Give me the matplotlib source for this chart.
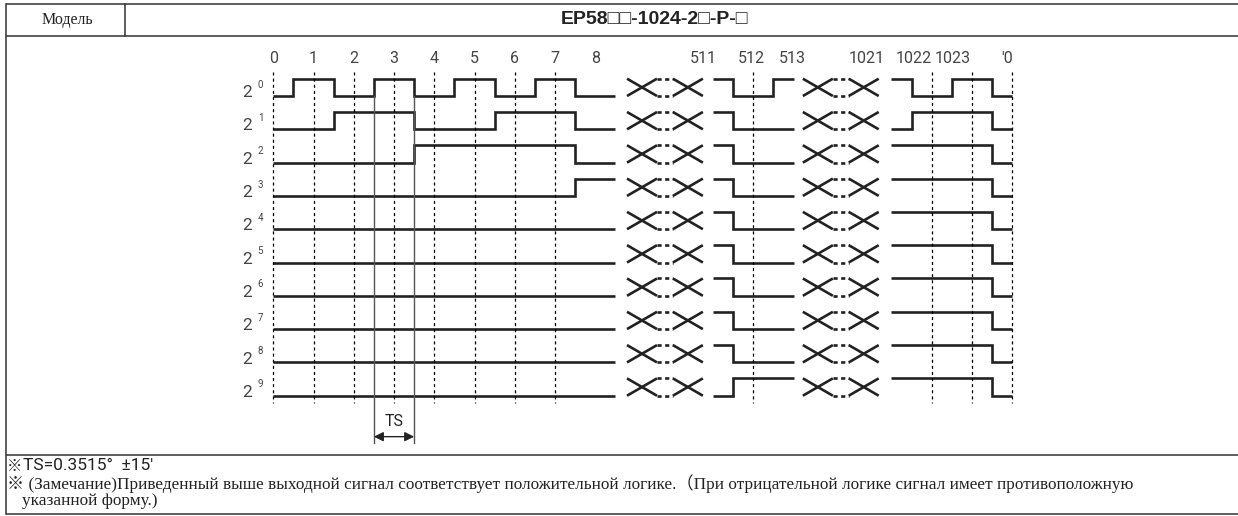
import matplotlib.pyplot as plt
import numpy as np

plt.rcParams['lines.scale_dashes'] = False

# texts
model_label = 'Модель'
model_code = 'EP58□□-1024-2□-P-□'
note_mark = '※'
note_ts = "TS=0.3515°  ±15'"
note_1 = '※ (Замечание)Приведенный выше выходной сигнал соответствует положительной логике.（При отрицательной логике сигнал имеет противоположную'
note_2 = 'указанной форму.)'

# counter labels of the three shown segments
seg_labels = [['0', '1', '2', '3', '4', '5', '6', '7', '8'],
              ['511', '512', '513'],
              ['1021', '1022', '1023', "'0"]]

# output bits, rows 2^0 .. 2^9, one value per count of the segment
bits_low = [[0, 1, 0, 1, 0, 1, 0, 1, 0],
            [0, 0, 1, 1, 0, 0, 1, 1, 0],
            [0, 0, 0, 0, 1, 1, 1, 1, 0],
            [0, 0, 0, 0, 0, 0, 0, 0, 1],
            [0, 0, 0, 0, 0, 0, 0, 0, 0],
            [0, 0, 0, 0, 0, 0, 0, 0, 0],
            [0, 0, 0, 0, 0, 0, 0, 0, 0],
            [0, 0, 0, 0, 0, 0, 0, 0, 0],
            [0, 0, 0, 0, 0, 0, 0, 0, 0],
            [0, 0, 0, 0, 0, 0, 0, 0, 0]]
bits_mid = [[1, 0, 1],
            [1, 0, 0],
            [1, 0, 0],
            [1, 0, 0],
            [1, 0, 0],
            [1, 0, 0],
            [1, 0, 0],
            [1, 0, 0],
            [1, 0, 0],
            [0, 1, 1]]
bits_high = [[1, 0, 1, 0],
             [0, 1, 1, 0],
             [1, 1, 1, 0],
             [1, 1, 1, 0],
             [1, 1, 1, 0],
             [1, 1, 1, 0],
             [1, 1, 1, 0],
             [1, 1, 1, 0],
             [1, 1, 1, 0],
             [1, 1, 1, 0]]
seg_bits = [bits_low, bits_mid, bits_high]
row_powers = ['0', '1', '2', '3', '4', '5', '6', '7', '8', '9']

# layout (slot units: one count step = 1)
seg_start = [0, 10.93, 15.36]
seg_pad_right = [0.5, 0, 0]
seg_guides = [[0, 1, 2, 3, 4, 5, 6, 7], [1], [1, 2, 3]]
label_slots = [[0, 1, 2, 3, 4, 5, 6, 7, 8],
               [10.68, 11.89, 12.91],
               [14.75, 15.92, 16.89, 18.24]]
gap_start = [8.79, 13.16]
amp = 0.52
px_x0, px_step = 273.3, 40.24
px_y0, px_row = 96, 33.3

ink = '#222222'
sans = ['Roboto', 'DejaVu Sans']
serif = ['Liberation Serif', 'Noto Sans CJK JP']

fig = plt.figure(figsize=(12.38, 5.16), dpi=100)
ax = fig.add_axes([0, 0, 1, 1])
ax.set_xlim(0, 1238)
ax.set_ylim(516, 0)
ax.axis('off')

# table frame
lc = '#333333'
for y in [4, 35.5, 455, 514]:
    ax.plot([5.5, 1238], [y, y], color=lc, lw=1.1, solid_capstyle='butt')
ax.plot([5.5, 5.5], [4, 514], color=lc, lw=1.1)
ax.plot([125, 125], [4, 35.5], color=lc, lw=1.1)

ax.text(67, 20, model_label, ha='center', va='center', fontsize=11.5, family=serif, color='#222')
ax.text(655, 20, model_code, ha='center', va='center', fontsize=14, weight='bold',
        family=['Liberation Sans', 'Noto Sans CJK JP'], color='#222')

ax.text(7, 466, note_mark, ha='left', va='center', fontsize=11, family='Noto Sans CJK JP',
        color='#222')
ax.text(23, 466, note_ts, ha='left', va='center', fontsize=12.5, family=sans, color='#222')
ax.text(7, 483.5, note_1, ha='left', va='center', fontsize=12.45, family=serif, color='#222')
ax.text(22, 501, note_2, ha='left', va='center', fontsize=12.45, family=serif, color='#222')

# diagram axes in slot / row units
dg = fig.add_axes([0, 0, 1, 1])
dg.set_xlim(-px_x0 / px_step, (1238 - px_x0) / px_step)
dg.set_ylim((516 - px_y0) / px_row, -px_y0 / px_row)
dg.axis('off')

guide_top, guide_bot = -0.72, 9.22
for s, start in enumerate(seg_start):
    for g in seg_guides[s]:
        dg.plot([start + g] * 2, [guide_top, guide_bot], color='black', lw=0.9,
                linestyle=(0, (2.2, 2.2)))
    for lab, xs in zip(seg_labels[s], label_slots[s]):
        dg.text(xs, -1.14, lab, ha='center', va='center', fontsize=11.5,
                family=sans, color='#444')

for r in range(10):
    for s, start in enumerate(seg_start):
        vals = np.array(seg_bits[s][r])
        n = len(vals)
        pos = start + np.arange(n)
        edges = np.concatenate([[pos[0]], (pos[:-1] + pos[1:]) / 2, [pos[-1] + seg_pad_right[s]]])
        st = dg.stairs(r - amp * vals, edges, baseline=None, color=ink, lw=1.9)
        st.set_joinstyle('miter')
        st.set_capstyle('butt')
    # crossing marks between segments
    lo, hi = r, r - amp
    xw = 0.745
    for g in gap_start:
        for x0 in [g, g + 1.14]:
            dg.plot([x0, x0 + xw], [lo, hi], color=ink, lw=1.9, solid_capstyle='butt')
            dg.plot([x0, x0 + xw], [hi, lo], color=ink, lw=1.9, solid_capstyle='butt')
        for y in [lo, hi]:
            dg.plot([g + xw, g + 1.14], [y, y], color=ink, lw=1.9,
                    linestyle=(0, (3, 2.5)), dash_capstyle='butt')
    dg.text(-0.66, r - 0.1, '2', ha='center', va='center', fontsize=12.5,
            family=sans, color='#444')
    dg.text(-0.32, r - 0.34, row_powers[r], ha='center', va='center', fontsize=7,
            family=sans, color='#444')

# TS dimension
for xs in [2.5, 3.5]:
    dg.plot([xs, xs], [0, 10.42], color='#555', lw=1.0)
dg.annotate('', xy=(2.5, 10.23), xytext=(3.5, 10.23),
            arrowprops=dict(arrowstyle='<|-|>', color='#222', lw=1.0, shrinkA=0, shrinkB=0,
                            mutation_scale=14))
dg.text(3.0, 9.78, 'TS', ha='center', va='center', fontsize=11.5,
        family=sans, color='#222')

fig.savefig('out.png', dpi=100)
